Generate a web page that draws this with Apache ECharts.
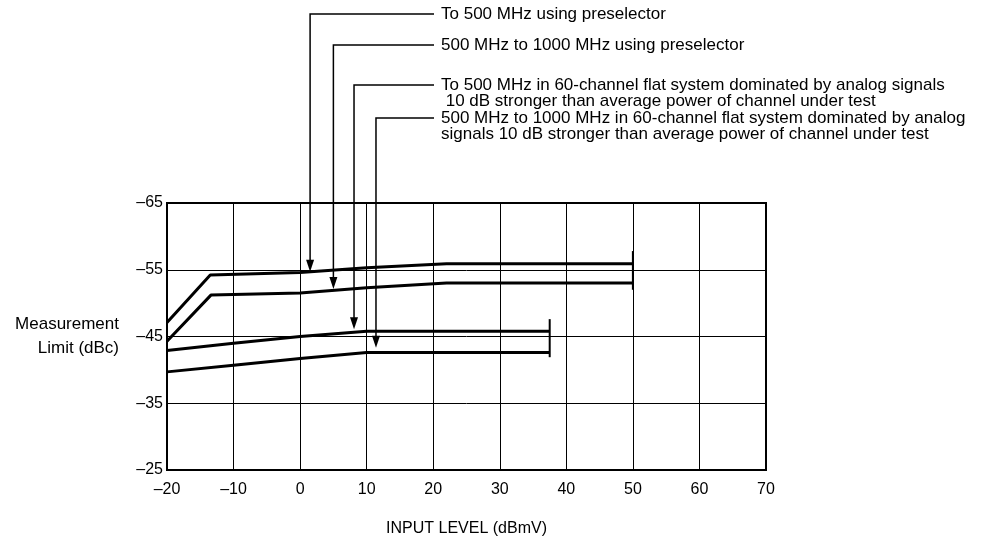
<!DOCTYPE html>
<html>
<head>
<meta charset="utf-8">
<script src="https://cdn.jsdelivr.net/npm/echarts@6/dist/echarts.min.js"></script>
<style>
  html, body { margin: 0; background: #fff; }
  #chart { width: 996px; height: 540px; }
</style>
</head>
<body>
<div id="chart"></div>
<script>
// curves: [input level dBmV, limit dBc]
const preselector500 = [[-20, -47.1], [-13.5, -54.2], [0, -54.6], [10, -55.3], [22, -55.9], [50, -55.9]];
const preselector1000 = [[-20, -44.3], [-13.4, -51.2], [0, -51.5], [10, -52.3], [22, -53.0], [50, -53.0]];
const flat500 = [[-20, -42.9], [-10, -44.0], [0, -45.0], [10, -45.8], [37.5, -45.8]];
const flat1000 = [[-20, -39.7], [-10, -40.7], [0, -41.7], [10, -42.6], [37.5, -42.6]];

// end bars of the curves
const capPreselector = [[50, -57.8], [50, -52.0]];
const capFlat = [[37.5, -47.6], [37.5, -41.9]];

// annotations: text lines and where each arrow points
const noteLines = [
  ["To 500 MHz using preselector"],
  ["500 MHz to 1000 MHz using preselector"],
  ["To 500 MHz in 60-channel flat system dominated by analog signals",
   " 10 dB stronger than average power of channel under test"],
  ["500 MHz to 1000 MHz in 60-channel flat system dominated by analog",
   "signals 10 dB stronger than average power of channel under test"]
];
const arrowX = [1.5, 5.0, 8.1, 11.4];
const arrowTipY = [-54.7, -52.1, -46.1, -43.3];

const noteTop = [14, 45, 85, 118]; // pixel y of first text line
const font = "Liberation Sans, Arial, sans-serif";

const chart = echarts.init(document.getElementById("chart"));

function dash(v) {
  return String(v).replace("-", "\u2013");
}

function curve(data, w) {
  return {
    type: "line",
    data: data,
    showSymbol: false,
    silent: true,
    clip: false,
    lineStyle: { color: "#000", width: w },
    z: 3
  };
}

chart.setOption({
  animation: false,
  grid: {
    left: 167,
    top: 203,
    width: 599,
    height: 267,
    show: true,
    borderColor: "#000",
    borderWidth: 2
  },
  xAxis: {
    type: "value",
    min: -20,
    max: 70,
    interval: 10,
    name: "INPUT LEVEL (dBmV)",
    nameLocation: "middle",
    nameGap: 51,
    nameTextStyle: { color: "#000", fontSize: 16, fontFamily: font },
    axisLine: { show: true, onZero: false, lineStyle: { color: "#000", width: 2 } },
    axisTick: { show: false },
    axisLabel: { color: "#000", fontSize: 16, fontFamily: font, margin: 12, formatter: dash },
    splitLine: { show: true, lineStyle: { color: "#000", width: 1 } }
  },
  yAxis: {
    type: "value",
    inverse: true,
    min: -65,
    max: -25,
    interval: 10,
    name: "Measurement\nLimit (dBc)",
    nameLocation: "middle",
    nameRotate: 0,
    nameGap: 48,
    nameTextStyle: { color: "#000", fontSize: 17, fontFamily: font, align: "right", lineHeight: 24 },
    axisLine: { show: true, onZero: false, lineStyle: { color: "#000", width: 2 } },
    axisTick: { show: false },
    axisLabel: { color: "#000", fontSize: 16, fontFamily: font, margin: 4, formatter: dash },
    splitLine: { show: true, lineStyle: { color: "#000", width: 1 } }
  },
  series: [
    curve(preselector500, 3),
    curve(preselector1000, 3),
    curve(flat500, 3),
    curve(flat1000, 3),
    curve(capPreselector, 2),
    curve(capFlat, 2)
  ]
});

// leader lines with arrow heads, then the texts
const graphics = [];
noteLines.forEach((lines, i) => {
  const tip = chart.convertToPixel({ gridIndex: 0 }, [arrowX[i], arrowTipY[i]]);
  const y0 = noteTop[i];
  graphics.push({
    type: "polyline",
    shape: { points: [[434, y0], [tip[0], y0], [tip[0], tip[1] - 10]] },
    style: { stroke: "#000", lineWidth: 1.5, fill: null },
    z: 10
  });
  graphics.push({
    type: "polygon",
    shape: { points: [[tip[0] - 4, tip[1] - 12], [tip[0] + 4, tip[1] - 12], [tip[0], tip[1]]] },
    style: { fill: "#000" },
    z: 10
  });
  lines.forEach((t, k) => {
    graphics.push({
      type: "text",
      x: 441,
      y: y0 + k * 16,
      style: { text: t, fill: "#000", font: "17px " + font, textVerticalAlign: "middle" },
      z: 10
    });
  });
});
chart.setOption({ graphic: graphics });
</script>
</body>
</html>
